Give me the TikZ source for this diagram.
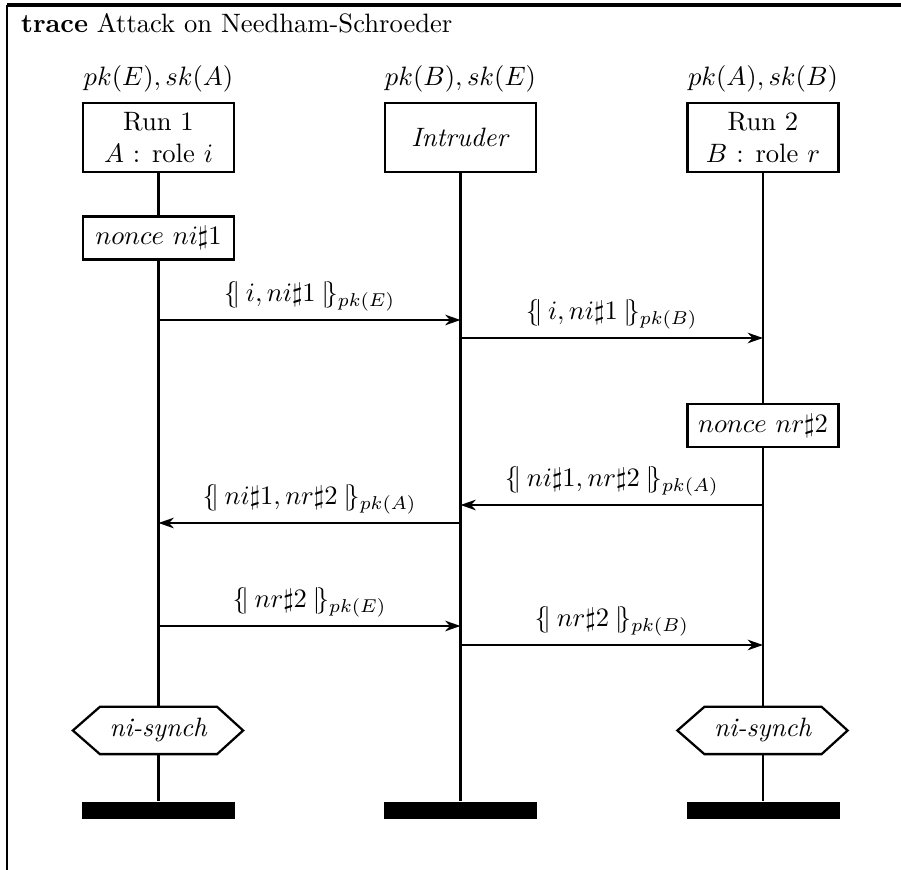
\documentclass[tikz,border=0pt]{standalone}
\usetikzlibrary{arrows.meta,calc}
\newdimen\pu \pu=0.376pt
\newcommand\encmsg[2]{\{\!|\:#1\:|\!\}_{#2}}
\begin{document}
\begin{tikzpicture}[x=0.376pt,y=-0.376pt,
  line width=0.85pt,
  inst/.style={draw,minimum width=151*\pu,minimum height=69*\pu,align=center,inner sep=0pt},
  act/.style={draw,minimum width=151*\pu,minimum height=43*\pu,inner sep=0pt},
  cond/.style={minimum width=115*\pu,minimum height=45*\pu,inner sep=0pt},
  endbar/.style={fill=black,minimum width=153*\pu,minimum height=17*\pu,inner sep=0pt},
  keys/.style={anchor=south,inner sep=3.3pt},
  msg/.style={-{Stealth[length=5.8pt,width=4pt,inset=1.9pt]}},
  lbl/.style={above,inner sep=2.8pt}]
\useasboundingbox (0,0) rectangle (901,870);

% frame and title
\draw[line width=1.2pt] (7,5) -- (901,5);
\draw (7,5) -- (7,870);
\node[anchor=base west,inner sep=0pt] (title) at (20,33) {\textbf{trace} Attack on Needham-Schroeder};

% instance heads
\node[inst] (run1) at (158.5,137.5) {Run 1\\ $A$ : role $i$};
\node[inst] (intr) at (460.5,137.5) {\textit{Intruder}};
\node[inst] (run2) at (763,137.5) {Run 2\\ $B$ : role $r$};
\node[keys] (k1) at (run1.north) {$pk(E), sk(A)$};
\node[keys] (k2) at (intr.north) {$pk(B), sk(E)$};
\node[keys] (k3) at (run2.north) {$pk(A), sk(B)$};

% actions
\node[act] (non1) at (158.5,238) {$nonce~ni\sharp1$};
\node[act] (non2) at (763,425.5) {$nonce~nr\sharp2$};

% conditions
\node[cond] (syn1) at (158.5,730.5) {\textit{ni-synch}};
\node[cond] (syn2) at (763,730.5) {\textit{ni-synch}};
\foreach \s in {syn1,syn2}
  \draw (\s.north west) -- (\s.north east) -- ($(\s.east)+(26,0)$) -- (\s.south east)
        -- (\s.south west) -- ($(\s.west)+(-27,0)$) -- cycle;

% instance ends
\node[endbar] (end1) at (158.5,811) {};
\node[endbar] (end2) at (460.5,811) {};
\node[endbar] (end3) at (763,811) {};

% lifelines
\draw (run1) -- (non1) (non1) -- (syn1) (syn1) -- (end1);
\draw (intr) -- (end2);
\draw (run2) -- (non2) (non2) -- (syn2) (syn2) -- (end3);

% message end points
\coordinate (a1) at (158.5,320); \coordinate (i1) at (460.5,320);
\coordinate (i2) at (460.5,338); \coordinate (b2) at (763,338);
\coordinate (b3) at (763,505);   \coordinate (i3) at (460.5,505);
\coordinate (i4) at (460.5,523); \coordinate (a4) at (158.5,523);
\coordinate (a5) at (158.5,626); \coordinate (i5) at (460.5,626);
\coordinate (i6) at (460.5,645); \coordinate (b6) at (763,645);

% messages
\draw[msg] (a1) -- node[lbl] (l1) {$\encmsg{i, ni\sharp1}{pk(E)}$} (i1);
\draw[msg] (i2) -- node[lbl] (l2) {$\encmsg{i, ni\sharp1}{pk(B)}$} (b2);
\draw[msg] (b3) -- node[lbl] (l3) {$\encmsg{ni\sharp1, nr\sharp2}{pk(A)}$} (i3);
\draw[msg] (i4) -- node[lbl] (l4) {$\encmsg{ni\sharp1, nr\sharp2}{pk(A)}$} (a4);
\draw[msg] (a5) -- node[lbl] (l5) {$\encmsg{nr\sharp2}{pk(E)}$} (i5);
\draw[msg] (i6) -- node[lbl] (l6) {$\encmsg{nr\sharp2}{pk(B)}$} (b6);
\end{tikzpicture}
\end{document}
